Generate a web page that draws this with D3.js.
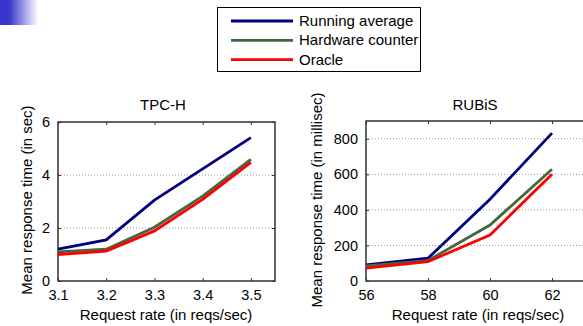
<!DOCTYPE html>
<html><head><meta charset="utf-8">
<script src="https://cdn.jsdelivr.net/npm/d3@7"></script>
<style>body{margin:0;background:#fff;overflow:hidden}svg{display:block;font-family:"Liberation Sans",Arial,sans-serif}</style>
</head><body><svg id="c" width="583" height="326"></svg>
<script>
const seriesNames = ["Running average", "Hardware counter", "Oracle"];
const seriesColors = ["#00007f", "#426842", "#ff0000"];

const tpchX = [3.1, 3.2, 3.3, 3.4, 3.5];
const tpchRunning = [1.2, 1.55, 3.05, 4.23, 5.41];
const tpchHardware = [1.1, 1.2, 2.03, 3.2, 4.59];
const tpchOracle = [1.0, 1.13, 1.89, 3.08, 4.48];
const tpchYTicks = [0, 2, 4, 6];

const rubisX = [56, 58, 60, 62];
const rubisRunning = [90, 128, 460, 832];
const rubisHardware = [85, 115, 315, 629];
const rubisOracle = [72, 109, 259, 601];
const rubisYTicks = [0, 200, 400, 600, 800];

const svg = d3.select("#c");

// decorative gradient at top-left
const defs = svg.append("defs");
const g = defs.append("linearGradient").attr("id","bg").attr("x1","0").attr("x2","1");
g.append("stop").attr("offset","0").attr("stop-color","#3a36cc");
g.append("stop").attr("offset","0.25").attr("stop-color","#3a36cc");
g.append("stop").attr("offset","1").attr("stop-color","#ffffff");
svg.append("rect").attr("x",0).attr("y",0).attr("width",38).attr("height",25).attr("fill","url(#bg)");
svg.append("rect").attr("x",0).attr("y",24).attr("width",7).attr("height",1).attr("fill","#3a36cc");

function panel(opt){
  const x = d3.scaleLinear().domain(opt.xDomain).range([opt.left, opt.right]);
  const y = d3.scaleLinear().domain(opt.yDomain).range([opt.bottom, opt.top]);
  const G = svg.append("g");
  // grid
  G.selectAll(".grid").data(opt.yTicks.filter(t=>t>opt.yDomain[0] && t<opt.yDomain[1]))
    .join("line").attr("x1",opt.left).attr("x2",opt.right)
    .attr("y1",d=>y(d)).attr("y2",d=>y(d))
    .attr("stroke","#999").attr("stroke-width",1).attr("stroke-dasharray","1,2");
  // box
  G.append("rect").attr("x",opt.left).attr("y",opt.top).attr("width",opt.right-opt.left).attr("height",opt.bottom-opt.top)
    .attr("fill","none").attr("stroke","#111").attr("stroke-width",1.3);
  // axes
  const xa = G.append("g").attr("transform",`translate(0,${opt.bottom})`)
    .call(d3.axisBottom(x).tickValues(opt.xTicks).tickFormat(opt.xFmt).tickSizeInner(-3).tickSizeOuter(0).tickPadding(9));
  xa.select(".domain").remove();
  const xt = G.append("g").attr("transform",`translate(0,${opt.top})`)
    .call(d3.axisTop(x).tickValues(opt.xTicks).tickFormat("").tickSizeInner(-3).tickSizeOuter(0));
  xt.select(".domain").remove();
  const ya = G.append("g").attr("transform",`translate(${opt.left},0)`)
    .call(d3.axisLeft(y).tickValues(opt.yTicks).tickFormat(d3.format("d")).tickSizeInner(-3).tickSizeOuter(0).tickPadding(8));
  ya.select(".domain").remove();
  const yr = G.append("g").attr("transform",`translate(${opt.right},0)`)
    .call(d3.axisRight(y).tickValues(opt.yTicks).tickFormat("").tickSizeInner(-3).tickSizeOuter(0));
  yr.select(".domain").remove();
  G.selectAll(".tick text").attr("font-size",14.5).attr("fill","#000").attr("font-family","'Liberation Sans',Arial,sans-serif");
  G.selectAll(".tick line").attr("stroke","#333");
  // lines
  const line = d3.line().x((d,i)=>x(opt.xs[i])).y(d=>y(d));
  opt.series.forEach((s,i)=>{
    G.append("path").attr("d",line(s)).attr("fill","none").attr("stroke",seriesColors[i])
      .attr("stroke-width",2.8).attr("stroke-linejoin","miter");
  });
  // labels
  G.append("text").attr("x",opt.titleX).attr("y",110).attr("text-anchor","middle").attr("font-size",15).text(opt.title);
  G.append("text").attr("x",opt.titleX+3).attr("y",320).attr("text-anchor","middle").attr("font-size",15).text("Request rate (in reqs/sec)");
  G.append("text").attr("transform",`translate(${opt.ylabX},200) rotate(-90)`).attr("text-anchor","middle").attr("font-size",15).text(opt.ylab);
}

panel({xDomain:[3.1,3.55], yDomain:[0,6], left:58, right:275, top:122, bottom:281,
  xTicks:tpchX, xFmt:d3.format(".1f"), yTicks:tpchYTicks, xs:tpchX,
  series:[tpchRunning,tpchHardware,tpchOracle], title:"TPC-H", titleX:163,
  ylab:"Mean response time (in sec)", ylabX:32});

panel({xDomain:[56,64], yDomain:[0,900], left:366, right:614, top:121, bottom:281,
  xTicks:rubisX, xFmt:d3.format("d"), yTicks:rubisYTicks, xs:rubisX,
  series:[rubisRunning,rubisHardware,rubisOracle], title:"RUBiS", titleX:475,
  ylab:"Mean response time (in millisec)", ylabX:322});

// legend
const L = svg.append("g");
L.append("rect").attr("x",217.5).attr("y",7.5).attr("width",203).attr("height",64).attr("fill","#fff").attr("stroke","#000").attr("stroke-width",1);
seriesNames.forEach((n,i)=>{
  const yy = 21 + i*19.3;
  L.append("line").attr("x1",231).attr("x2",293).attr("y1",yy).attr("y2",yy).attr("stroke",seriesColors[i]).attr("stroke-width",2.8);
  L.append("text").attr("x",299).attr("y",yy+5).attr("font-size",15).text(n);
});
</script></body></html>
